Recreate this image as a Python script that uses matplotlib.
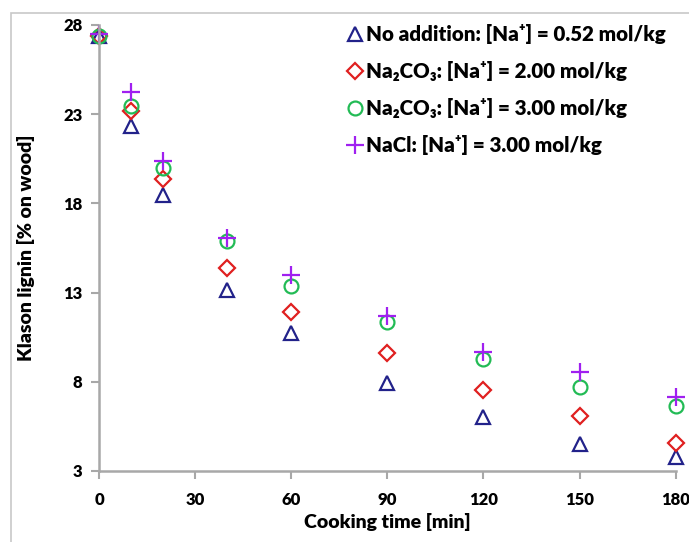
import matplotlib
matplotlib.use('Agg')
import matplotlib.pyplot as plt
from matplotlib.patches import Rectangle

plt.rcParams['font.family'] = ['Lato', 'DejaVu Sans']
plt.rcParams['font.weight'] = 'heavy'

time = [0, 10, 20, 40, 60, 90, 120, 150, 180]
no_addition = [27.4, 22.35, 18.45, 13.15, 10.75, 7.93, 6.03, 4.52, 3.78]
na2co3_200 = [27.4, 23.2, 19.37, 14.38, 11.9, 9.6, 7.53, 6.08, 4.57]
na2co3_300 = [27.4, 23.45, 19.98, 15.9, 13.37, 11.33, 9.3, 7.71, 6.64]
nacl_300 = [27.5, 24.25, 20.38, 16.06, 13.99, 11.69, 9.67, 8.55, 7.15]

labels = ['No addition: [Na\u207a] = 0.52 mol/kg',
          'Na\u2082CO\u2083: [Na\u207a] = 2.00 mol/kg',
          'Na\u2082CO\u2083: [Na\u207a] = 3.00 mol/kg',
          'NaCl: [Na\u207a] = 3.00 mol/kg']
x_ticks = [0, 30, 60, 90, 120, 150, 180]
y_ticks = [3, 8, 13, 18, 23, 28]

fig = plt.figure(figsize=(6.89, 5.42), dpi=100)
ax = fig.add_axes([0.1437, 0.131, 0.837, 0.823])

# light frame around the chart area
fig.patches.append(Rectangle((0.016, -0.05), 1.1, 1.026, transform=fig.transFigure,
                             fill=False, edgecolor='#c8c8c8', linewidth=1.2))

styles = [
    dict(marker='^', color='#22228a', ms=10),
    dict(marker='D', color='#e02020', ms=8),
    dict(marker='o', color='#22bb55', ms=10),
    dict(marker='+', color='#a020f0', ms=13),
]
series = [no_addition, na2co3_200, na2co3_300, nacl_300]
for vals, lab, st in zip(series, labels, styles):
    ax.plot(time, vals, linestyle='none', marker=st['marker'], markersize=st['ms'],
            markerfacecolor='none', markeredgecolor=st['color'], markeredgewidth=1.6,
            label=lab, clip_on=False)

ax.set_xlim(0, 180)
ax.set_ylim(3, 28)
ax.set_xticks(x_ticks)
ax.set_yticks(y_ticks)
for side in ['top', 'right']:
    ax.spines[side].set_visible(False)
for side in ['left', 'bottom']:
    ax.spines[side].set_color('#a8a8a8')
    ax.spines[side].set_linewidth(1.8)
ax.tick_params(colors='#a8a8a8', width=1.5, length=6, labelcolor='black', labelsize=12)
ax.tick_params(axis='x', pad=9)
ax.tick_params(axis='y', pad=6)

ax.set_xlabel('Cooking time [min]', fontsize=14, fontweight='heavy', labelpad=4)
ax.set_ylabel('Klason lignin [% on wood]', fontsize=14, fontweight='heavy', labelpad=20)

leg = ax.legend(loc='upper right', bbox_to_anchor=(1.014, 1.043), frameon=False,
                prop={'size': 14.8, 'weight': 'heavy'}, handletextpad=0.15,
                handlelength=0.7, labelspacing=0.82)

fig.savefig('out.png', dpi=100)
